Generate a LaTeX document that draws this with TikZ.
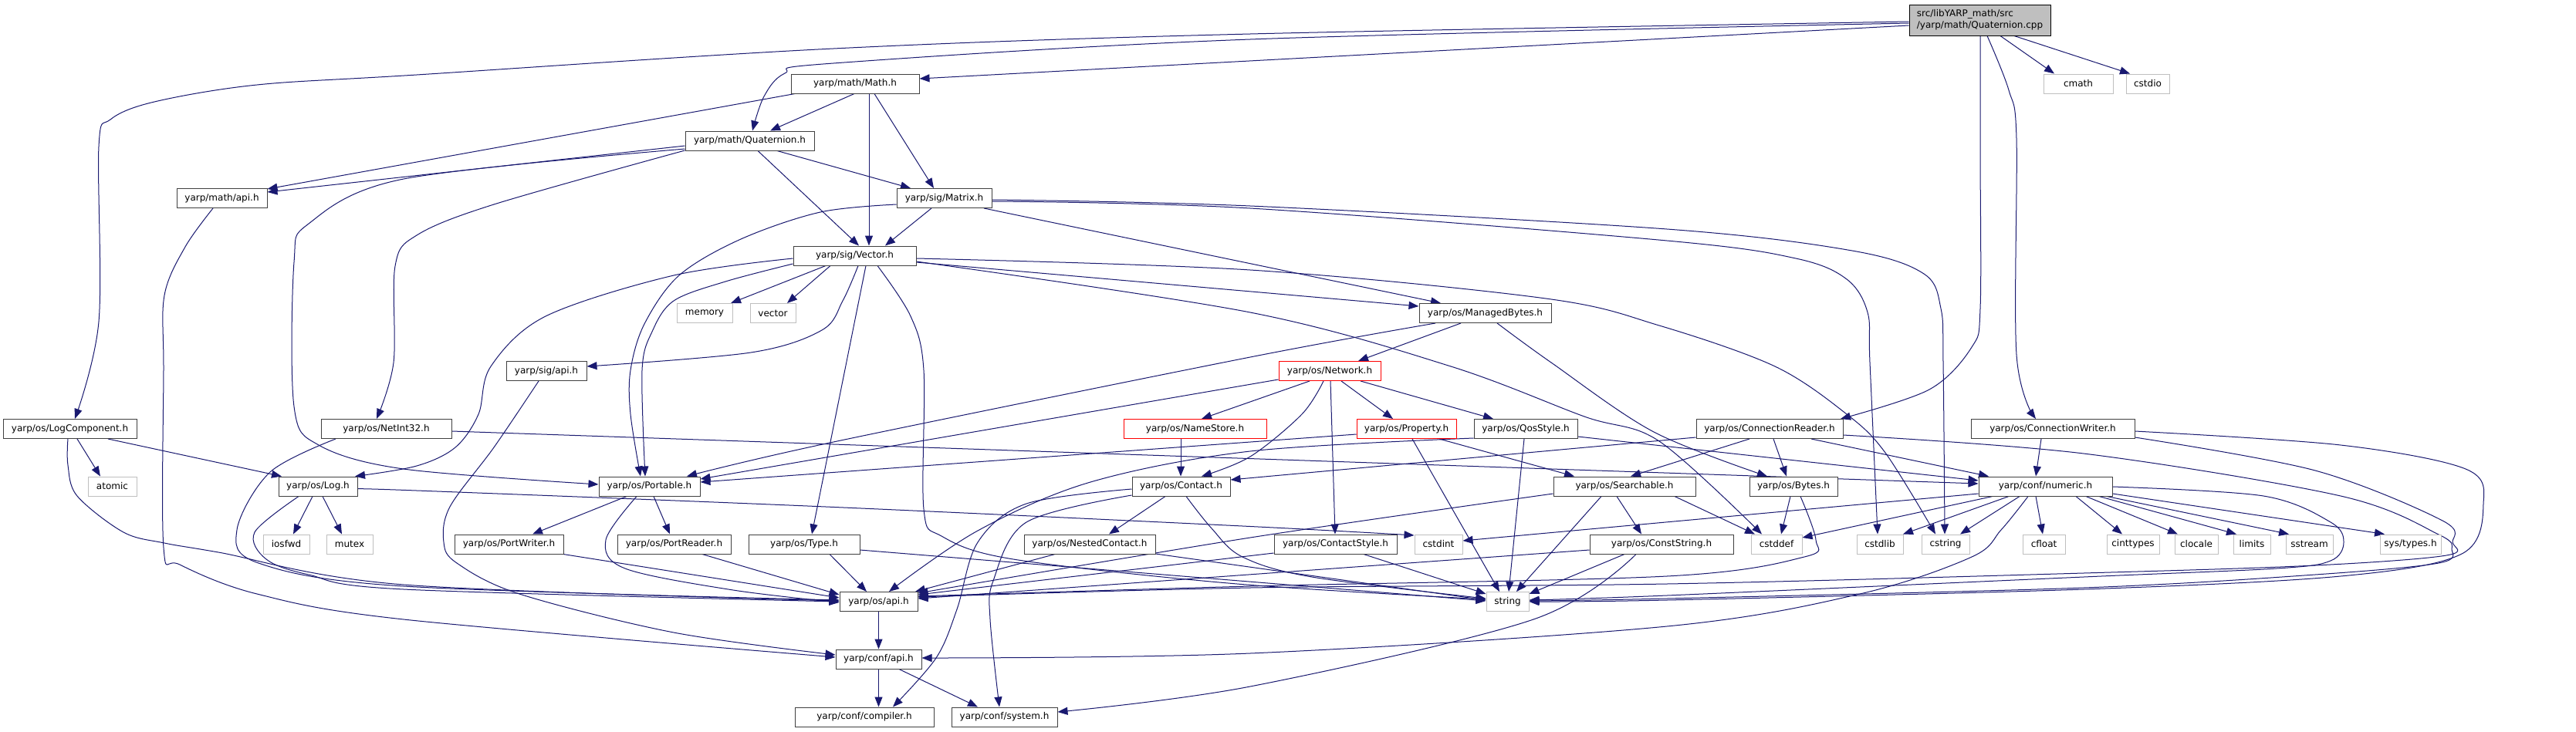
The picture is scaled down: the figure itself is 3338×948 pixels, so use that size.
\documentclass[tikz,border=0pt]{standalone}
\usepackage{fontspec}
\setmainfont{DejaVu Sans}
\usetikzlibrary{calc,arrows.meta}
\pgfdeclarelayer{bg}
\pgfsetlayers{bg,main}
\definecolor{edgec}{HTML}{191970}
\definecolor{bordc}{HTML}{404040}
\definecolor{greyc}{HTML}{BFBFBF}
\tikzset{
 nd/.style={draw=bordc, fill=white, line width=1pt, minimum height=25pt, inner sep=0pt, font=\fontsize{12}{15}\selectfont, text=black},
 sysnd/.style={nd, draw=greyc},
 rednd/.style={nd, draw=red},
 e/.style={draw=edgec, line width=1pt, -{Triangle[length=13pt,width=10pt]}},
 sm/.style={smooth, tension=0.55}
}
\begin{document}
\begin{tikzpicture}[x=1pt,y=-1pt]
\useasboundingbox (0,0) rectangle (3338,948);
% row 0
\node[nd,fill=greyc,draw=black,minimum height=40pt,minimum width=183pt,align=left] (root) at (2565.5,26) {src/libYARP\_math/src\\/yarp/math/Quaternion.cpp};
% row 1
\node[nd,minimum width=166pt] (math) at (1108,108.5) {yarp/math/Math.h};
\node[sysnd,minimum width=90pt] (cmath) at (2693,108.5) {cmath};
\node[sysnd,minimum width=56pt] (cstdio) at (2783,108.5) {cstdio};
% row 2
\node[nd,minimum width=167pt] (quat) at (971.5,182.5) {yarp/math/Quaternion.h};
% row 3
\node[nd,minimum width=117pt] (mapi) at (287.5,257) {yarp/math/api.h};
\node[nd,minimum width=123pt] (matrix) at (1223.5,257) {yarp/sig/Matrix.h};
% row 4
\node[nd,minimum width=159pt] (vec) at (1107.5,331.5) {yarp/sig/Vector.h};
% row 5
\node[sysnd,minimum width=72pt] (memory) at (913,406) {memory};
\node[sysnd,minimum width=59pt] (vector) at (1001.5,406) {vector};
\node[nd,minimum width=171pt] (mb) at (1924.5,406) {yarp/os/ManagedBytes.h};
% row 6
\node[nd,minimum width=104pt] (sapi) at (708,481) {yarp/sig/api.h};
\node[rednd,minimum width=132pt] (net) at (1723,481) {yarp/os/Network.h};
% row 7
\node[nd,minimum width=173pt] (logc) at (90.5,556) {yarp/os/LogComponent.h};
\node[nd,minimum width=169pt] (ni32) at (500.5,556) {yarp/os/NetInt32.h};
\node[rednd,minimum width=185pt] (ns) at (1548.5,556) {yarp/os/NameStore.h};
\node[rednd,minimum width=129pt] (prop) at (1822.5,556) {yarp/os/Property.h};
\node[nd,minimum width=134pt] (qos) at (1977,556) {yarp/os/QosStyle.h};
\node[nd,minimum width=190pt] (cr) at (2293,556) {yarp/os/ConnectionReader.h};
\node[nd,minimum width=212pt] (cw) at (2660,556) {yarp/os/ConnectionWriter.h};
% row 8
\node[sysnd,minimum width=63pt] (atomic) at (145.5,630.5) {atomic};
\node[nd,minimum width=102pt] (log) at (412,630.5) {yarp/os/Log.h};
\node[nd,minimum width=131pt] (port) at (841.5,630.5) {yarp/os/Portable.h};
\node[nd,minimum width=127pt] (contact) at (1530.5,630.5) {yarp/os/Contact.h};
\node[nd,minimum width=184pt] (search) at (2105,630.5) {yarp/os/Searchable.h};
\node[nd,minimum width=114pt] (bytes) at (2324,630.5) {yarp/os/Bytes.h};
\node[nd,minimum width=173pt] (num) at (2650.5,630.5) {yarp/conf/numeric.h};
% row 9
\node[sysnd,minimum width=60pt] (iosfwd) at (371,705.5) {iosfwd};
\node[sysnd,minimum width=60pt] (mutex) at (453,705.5) {mutex};
\node[nd,minimum width=141pt] (pw) at (659.5,705.5) {yarp/os/PortWriter.h};
\node[nd,minimum width=147pt] (pr) at (873.5,705.5) {yarp/os/PortReader.h};
\node[nd,minimum width=144pt] (type) at (1042,705.5) {yarp/os/Type.h};
\node[nd,minimum width=170pt] (nc) at (1412,705.5) {yarp/os/NestedContact.h};
\node[nd,minimum width=159pt] (cs) at (1730.5,705.5) {yarp/os/ContactStyle.h};
\node[sysnd,minimum width=62pt] (cstdint) at (1864,705.5) {cstdint};
\node[nd,minimum width=186pt] (cstr) at (2153,705.5) {yarp/os/ConstString.h};
\node[sysnd,minimum width=66pt] (cstddef) at (2302,705.5) {cstddef};
\node[sysnd,minimum width=60pt] (cstdlib) at (2436,705.5) {cstdlib};
\node[sysnd,minimum width=62pt] (cstring) at (2521,705.5) {cstring};
\node[sysnd,minimum width=55pt] (cfloat) at (2648.5,705.5) {cfloat};
\node[sysnd,minimum width=68pt] (cinttypes) at (2764,705.5) {cinttypes};
\node[sysnd,minimum width=56pt] (clocale) at (2846,705.5) {clocale};
\node[sysnd,minimum width=48pt] (limits) at (2918,705.5) {limits};
\node[sysnd,minimum width=61pt] (sstream) at (2992.5,705.5) {sstream};
\node[sysnd,minimum width=79pt] (systypes) at (3123.5,705.5) {sys/types.h};
% row 10
\node[nd,minimum width=101pt] (osapi) at (1138.5,780) {yarp/os/api.h};
\node[sysnd,minimum width=55pt] (string) at (1953.5,780) {string};
% row 11
\node[nd,minimum width=111pt] (capi) at (1138.5,854.5) {yarp/conf/api.h};
% row 12
\node[nd,minimum width=180pt] (compiler) at (1120,929.5) {yarp/conf/compiler.h};
\node[nd,minimum width=137pt] (system) at (1301.5,929.5) {yarp/conf/system.h};

\begin{pgfonlayer}{bg}
\fill[white] (0,0) rectangle (3338,948);
% root
\draw[e] (root.west |- 0,33) -- (math.east |- 0,102);
\draw[e] plot[sm] coordinates {(root.west |- 0,30) (1620,51) (1080,82) (1017,95) (990,125) (975,0 |- quat.north)};
\draw[e] plot[sm] coordinates {(root.west |- 0,28) (1620,44) (1080,63) (540,97) (333,110) (200,132) (143,155) (128,190) (128,417) (97,0 |- logc.north)};
\draw[e] (2592,0 |- root.south) -- (2662,0 |- cmath.north);
\draw[e] (2610,0 |- root.south) -- (2760,0 |- cstdio.north);
\draw[e] plot[sm] coordinates {(2566,0 |- root.south) (2566,200) (2566,400) (2555,450) (2500,505) (2385,0 |- cr.north)};
\draw[e] plot[sm] coordinates {(2575,0 |- root.south) (2603,117) (2613,180) (2613,460) (2638,0 |- cw.north)};
% Math.h
\draw[e] (1107,0 |- math.south) -- (998,0 |- quat.north);
\draw[e] (1030,0 |- math.south) -- (mapi.east |- 0,245);
\draw[e] (1126,0 |- math.south) -- (1126,0 |- vec.north);
\draw[e] (1133,0 |- math.south) -- (1210,0 |- matrix.north);
% Quaternion.h
\draw[e] (quat.west |- 0,189) -- (mapi.east |- 0,249);
\draw[e] (1007,0 |- quat.south) -- (1180,0 |- matrix.north);
\draw[e] (982,0 |- quat.south) -- (1113,0 |- vec.north);
\draw[e] plot[sm] coordinates {(quat.west |- 0,193) (523,232) (400,290) (381,340) (381,527) (413,577) (523,608) (port.west |- 0,628)};
\draw[e] plot[sm] coordinates {(quat.west |- 0,195) (640,265) (540,305) (512,345) (510,470) (488,0 |- ni32.north)};
% Matrix.h
\draw[e] (1207,0 |- matrix.south) -- (1147,0 |- vec.north);
\draw[e] plot[sm] coordinates {(matrix.west |- 0,265) (1063,275) (960,310) (880,357) (835,420) (817,480) (817,537) (830,0 |- port.north)};
\draw[e] (1275,0 |- matrix.south) -- (1867,0 |- mb.north);
\draw[e] plot[sm] coordinates {(matrix.east |- 0,259) (1620,267) (2160,297) (2400,325) (2493,355) (2515,400) (2518,470) (2520,0 |- cstring.north)};
\draw[e] plot[sm] coordinates {(matrix.east |- 0,261) (1620,270) (2160,312) (2327,335) (2393,362) (2420,405) (2423,470) (2433,0 |- cstdlib.north)};
% Vector.h
\draw[e] (1070,0 |- vec.south) -- (947,0 |- memory.north);
\draw[e] (1076,0 |- vec.south) -- (1020,0 |- vector.north);
\draw[e] plot[sm] coordinates {(1112,0 |- vec.south) (1092,390) (1065,428) (973,457) (sapi.east |- 0,475)};
\draw[e] plot[sm] coordinates {(vec.west |- 0,335) (873,357) (707,410) (636,475) (620,537) (590,580) (540,604) (460,0 |- log.north)};
\draw[e] plot[sm] coordinates {(vec.west |- 0,342) (940,365) (873,390) (845,430) (832,480) (836,0 |- port.north)};
\draw[e] (1122,0 |- vec.south) -- (1052,0 |- type.north);
\draw[e] plot[sm] coordinates {(1137,0 |- vec.south) (1180,410) (1197,480) (1197,660) (1220,695) (1313,725) (1603,757) (string.west |- 0,777)};
\draw[e] (vec.east |- 0,340) -- (mb.west |- 0,397);
\draw[e] plot[sm] coordinates {(vec.east |- 0,335) (1620,350) (2003,387) (2150,422) (2300,475) (2393,537) (2443,587) (2508,0 |- cstring.north)};
\draw[e] plot[sm] coordinates {(vec.east |- 0,339) (1620,405) (1880,475) (2053,540) (2150,572) (2283,0 |- cstddef.north)};
% ManagedBytes.h
\draw[e] (1893,0 |- mb.south) -- (1760,0 |- net.north);
\draw[e] plot[sm] coordinates {(1860,0 |- mb.south) (1620,463) (1080,573) (890,0 |- port.north)};
\draw[e] plot[sm] coordinates {(1940,0 |- mb.south) (2010,470) (2143,560) (2290,0 |- bytes.north)};
% sig/api.h, math/api.h
\draw[e] plot[sm] coordinates {(698,0 |- sapi.south) (640,580) (583,657) (575,703) (592,730) (673,770) (873,820) (capi.west |- 0,849)};
\draw[e] plot[sm] coordinates {(276,0 |- mapi.south) (240,320) (213,383) (212,480) (212,710) (233,732) (333,770) (523,803) (capi.west |- 0,852)};
% Network.h
\draw[e] (net.west |- 0,492) -- (port.east |- 0,621);
\draw[e] (1697,0 |- net.south) -- (1557,0 |- ns.north);
\draw[e] plot[sm] coordinates {(1715,0 |- net.south) (1687,537) (1620,592) (1557,0 |- contact.north)};
\draw[e] (1724,0 |- net.south) -- (1730,0 |- cs.north);
\draw[e] (1738,0 |- net.south) -- (1805,0 |- prop.north);
\draw[e] (1763,0 |- net.south) -- (1935,0 |- qos.north);
% NameStore / Property / QosStyle
\draw[e] (1530,0 |- ns.south) -- (1530,0 |- contact.north);
\draw[e] (prop.west |- 0,563) -- (port.east |- 0,625);
\draw[e] (1830,0 |- prop.south) -- (1943,0 |- string.north);
\draw[e] (1865,0 |- prop.south) -- (2040,0 |- search.north);
\draw[e] plot[sm] coordinates {(qos.west |- 0,568) (1620,585) (1413,625) (1267,688) (1152,0 |- osapi.north)};
\draw[e] (1975,0 |- qos.south) -- (1955,0 |- string.north);
\draw[e] (qos.east |- 0,566) -- (num.west |- 0,623);
% NetInt32 / LogComponent / Log
\draw[e] (ni32.east |- 0,559) -- (num.west |- 0,627);
\draw[e] plot[sm] coordinates {(435,0 |- ni32.south) (350,612) (307,687) (335,730) (523,760) (osapi.west |- 0,778)};
\draw[e] (100,0 |- logc.south) -- (130,0 |- atomic.north);
\draw[e] (140,0 |- logc.south) -- (365,0 |- log.north);
\draw[e] plot[sm] coordinates {(88,0 |- logc.south) (88,603) (100,643) (160,690) (213,704) (283,716) (523,758) (osapi.west |- 0,779)};
\draw[e] (405,0 |- log.south) -- (380,0 |- iosfwd.north);
\draw[e] (418,0 |- log.south) -- (443,0 |- mutex.north);
\draw[e] plot[sm] coordinates {(log.east |- 0,634) (540,636) (1070,657) (1610,682) (cstdint.west |- 0,694)};
\draw[e] plot[sm] coordinates {(387,0 |- log.south) (330,690) (345,725) (400,745) (523,764) (osapi.west |- 0,780)};
% Portable & co
\draw[e] (812,0 |- port.south) -- (690,0 |- pw.north);
\draw[e] (847,0 |- port.south) -- (868,0 |- pr.north);
\draw[e] plot[sm] coordinates {(825,0 |- port.south) (785,700) (810,737) (950,765) (osapi.west |- 0,781)};
\draw[e] (730,0 |- pw.south) -- (osapi.west |- 0,775);
\draw[e] (910,0 |- pr.south) -- (osapi.west |- 0,771);
\draw[e] (1075,0 |- type.south) -- (1123,0 |- osapi.north);
\draw[e] (type.east |- 0,713) -- (string.west |- 0,779);
% Contact & co
\draw[e] (1510,0 |- contact.south) -- (1437,0 |- nc.north);
\draw[e] plot[sm] coordinates {(contact.west |- 0,634) (1330,653) (1267,703) (1240,790) (1213,853) (1157,0 |- compiler.north)};
\draw[e] plot[sm] coordinates {(contact.west |- 0,642) (1330,677) (1287,753) (1283,803) (1295,0 |- system.north)};
\draw[e] plot[sm] coordinates {(1537,0 |- contact.south) (1570,685) (1610,722) (1700,748) (string.west |- 0,776)};
\draw[e] (1367,0 |- nc.south) -- (1186,0 |- osapi.north);
\draw[e] (nc.east |- 0,718) -- (string.west |- 0,778);
\draw[e] (cs.west |- 0,717) -- (osapi.east |- 0,771);
\draw[e] (1767,0 |- cs.south) -- (string.west |- 0,770);
% Searchable / ConstString / Bytes
\draw[e] (2095,0 |- search.south) -- (2127,0 |- cstr.north);
\draw[e] (2075,0 |- search.south) -- (1965,0 |- string.north);
\draw[e] plot[sm] coordinates {(search.west |- 0,640) (1620,697) (osapi.east |- 0,769)};
\draw[e] (2170,0 |- search.south) -- (2274,0 |- cstddef.north);
\draw[e] (cstr.west |- 0,713) -- (osapi.east |- 0,776);
\draw[e] (2105,0 |- cstr.south) -- (string.east |- 0,770);
\draw[e] plot[sm] coordinates {(2120,0 |- cstr.south) (1987,803) (1620,890) (system.east |- 0,923)};
\draw[e] (2320,0 |- bytes.south) -- (2308,0 |- cstddef.north);
\draw[e] plot[sm] coordinates {(2333,0 |- bytes.south) (2353,700) (2338,722) (2160,747) (1620,760) (osapi.east |- 0,773)};
% ConnectionReader
\draw[e] (cr.west |- 0,567) -- (contact.east |- 0,622);
\draw[e] (2267,0 |- cr.south) -- (2113,0 |- search.north);
\draw[e] (2298,0 |- cr.south) -- (2315,0 |- bytes.north);
\draw[e] (2347,0 |- cr.south) -- (2577,0 |- num.north);
\draw[e] plot[sm] coordinates {(cr.east |- 0,564) (2700,588) (3033,643) (3160,693) (3177,712) (3160,730) (3000,745) (2700,762) (2160,776) (string.east |- 0,779)};
% ConnectionWriter
\draw[e] (2645,0 |- cw.south) -- (2638,0 |- num.north);
\draw[e] plot[sm] coordinates {(cw.east |- 0,559) (3033,577) (3195,608) (3218,653) (3190,718) (3033,747) (2700,764) (2160,778) (string.east |- 0,780)};
\draw[e] plot[sm] coordinates {(cw.east |- 0,567) (3000,610) (3165,675) (3178,703) (3170,720) (3000,733) (2700,743) (2160,757) (1620,762) (osapi.east |- 0,774)};
% numeric.h
\draw[e] (num.west |- 0,640) -- (cstdint.east |- 0,701);
\draw[e] (2582,0 |- num.south) -- (cstddef.east |- 0,697);
\draw[e] (2603,0 |- num.south) -- (2466,0 |- cstdlib.north);
\draw[e] (2617,0 |- num.south) -- (2540,0 |- cstring.north);
\draw[e] (2638,0 |- num.south) -- (2647,0 |- cfloat.north);
\draw[e] (2690,0 |- num.south) -- (2750,0 |- cinttypes.north);
\draw[e] (2703,0 |- num.south) -- (2822,0 |- clocale.north);
\draw[e] (2720,0 |- num.south) -- (2898,0 |- limits.north);
\draw[e] (2730,0 |- num.south) -- (2966,0 |- sstream.north);
\draw[e] (num.east |- 0,640) -- (3090,0 |- systypes.north);
\draw[e] plot[sm] coordinates {(num.east |- 0,631) (2933,643) (3020,677) (3037,703) (3020,727) (2950,737) (2700,748) (2160,772) (string.east |- 0,778)};
\draw[e] plot[sm] coordinates {(2628,0 |- num.south) (2593,687) (2555,722) (2410,770) (2160,812) (1620,847) (capi.east |- 0,853)};
% api chain
\draw[e] (1138.5,0 |- osapi.south) -- (1138.5,0 |- capi.north);
\draw[e] (1138.5,0 |- capi.south) -- (1138.5,0 |- compiler.north);
\draw[e] (1165,0 |- capi.south) -- (1267,0 |- system.north);
\end{pgfonlayer}
\end{tikzpicture}
\end{document}
